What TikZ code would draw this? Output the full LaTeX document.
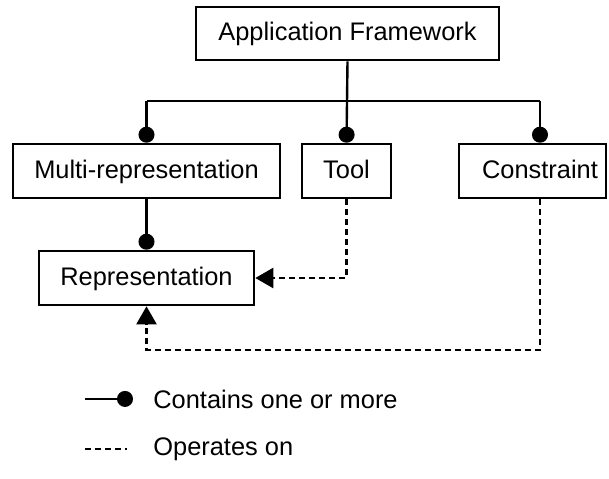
\documentclass[tikz,border=0pt]{standalone}
\usepackage{fontspec}
\setmainfont{Liberation Sans}
\usetikzlibrary{arrows.meta, positioning, calc}

\begin{document}
\begin{tikzpicture}[x=0.5pt, y=-0.5pt, font=\fontsize{12.7}{15}\selectfont,
    box/.style={draw, line width=1.3pt, minimum height=27pt, inner sep=0pt, text height=0.72em, text depth=0pt},
    contains/.style={line width=1.2pt, -{Circle[length=8pt]}},
    operates/.style={line width=1.2pt, dash pattern=on 3pt off 2pt, -{Triangle[length=9pt,width=10pt]}},
    legend/.style={anchor=base west, inner sep=0pt}]
  \useasboundingbox (0,0) rectangle (609,478);

  % classes
  \node[box, minimum width=151.5pt, minimum height=26.5pt] (app) at (347.5,33.5) {Application Framework};
  \node[box, minimum width=133.5pt] (multi) at (146.5,171) {Multi-representation};
  \node[box, minimum width=44.5pt] (tool) at (346.5,171) {Tool};
  \node[box, minimum width=73.5pt] (cons) at (532.5,171) {\hspace*{7.5pt}Constraint};
  \node[box, minimum width=107.5pt] (rep) at (146.5,278) {Representation};

  \coordinate (bus) at (347.5,101);
  \coordinate (cons top) at ([xshift=3.75pt]cons.north);
  \coordinate (cons bot) at ([xshift=3.75pt]cons.south);
  \coordinate (loop) at (146.5,350);

  % contains one or more
  \draw[line width=1.2pt] (multi.north |- bus) -- (cons top |- bus);
  \draw[contains] (app.south) -- (tool.north);
  \draw[contains] (multi.north |- bus) -- (multi.north);
  \draw[contains] (cons top |- bus) -- (cons top);
  \draw[contains] (multi.south) -- (rep.north);

  % operates on
  \draw[operates] (tool.south) |- (rep.east);
  \draw[operates] (cons bot) |- (loop) -- (rep.south);

  % legend
  \node[legend] (lc) at (153,408) {Contains one or more};
  \node[legend] (lo) at (153,455) {Operates on};
  \draw[contains, shorten >=10pt] ([xshift=-34pt]lc.west) -- (lc.west);
  \draw[line width=1.2pt, dash pattern=on 3pt off 2pt, shorten >=13pt] ([xshift=-34pt]lo.west) -- (lo.west);
\end{tikzpicture}
\end{document}
